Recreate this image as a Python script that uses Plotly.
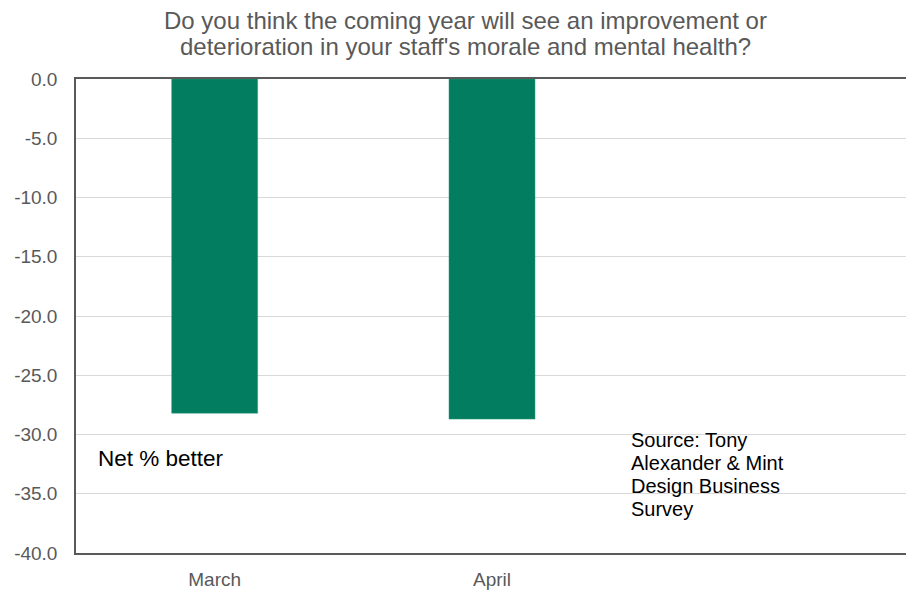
import plotly.graph_objects as go

categories = ["March", "April"]
net_better = [-28.2, -28.7]
y_ticks = [0, -5, -10, -15, -20, -25, -30, -35, -40]
y_tick_labels = [f"{v:.1f}" for v in y_ticks]
title_lines = ["Do you think the coming year will see an improvement or",
               "deterioration in your staff's morale and mental health?"]
label_text = "Net % better"
source_lines = ["Source: Tony", "Alexander & Mint", "Design Business", "Survey"]

FONT = "Liberation Sans, Arial, sans-serif"

# plot area in window pixels: x 76..908, y 79..553 (page body has 8px margin)
PL, PR, PT, PB = 76, 908, 79, 553
PW, PH = PR - PL, PB - PT

def px_to_paper(x, y):
    return (x - PL) / PW, (PB - y) / PH

fig = go.Figure()
fig.add_trace(go.Bar(
    x=categories, y=net_better,
    width=0.31,
    marker=dict(color="#037D5F", line=dict(color="#2E9A7E", width=0.5)),
    showlegend=False,
))

annotations = []
for i, line in enumerate(title_lines):
    ax, ay = px_to_paper(465, 20 + 26 * i)
    annotations.append(dict(
        text=line, x=ax, y=ay, xref="paper", yref="paper",
        xanchor="center", yanchor="middle", showarrow=False,
        font=dict(family=FONT, size=24, color="#595959")))

ax, ay = px_to_paper(96, 458)
annotations.append(dict(
    text=label_text, x=ax, y=ay, xref="paper", yref="paper",
    xanchor="left", yanchor="middle", showarrow=False,
    font=dict(family=FONT, size=22.5, color="#000000")))
for i, line in enumerate(source_lines):
    ax, ay = px_to_paper(629, 440 + 23 * i)
    annotations.append(dict(
        text=line, x=ax, y=ay, xref="paper", yref="paper",
        xanchor="left", yanchor="middle", showarrow=False,
        font=dict(family=FONT, size=20, color="#000000")))

OFF = 8
fig.update_layout(
    width=914, height=591,
    margin=dict(l=PL - OFF, r=914 - (PR - OFF), t=PT - OFF, b=591 - (PB - OFF),
                autoexpand=False),
    paper_bgcolor="white", plot_bgcolor="white",
    font=dict(family=FONT),
    xaxis=dict(range=[-0.5, 2.5], type="category", showline=True, mirror=True,
               linecolor="#595959", linewidth=1.5, ticks="", showgrid=False,
               automargin=False,
               tickfont=dict(family=FONT, size=19, color="#595959"),
               ticklabelstandoff=8),
    yaxis=dict(range=[-40, 0], tickvals=y_ticks, ticktext=y_tick_labels,
               showline=True, mirror=True, linecolor="#595959", linewidth=1.5,
               showgrid=True, gridcolor="#D9D9D9", gridwidth=1,
               zeroline=False, ticks="", automargin=False,
               tickfont=dict(family=FONT, size=19, color="#595959"),
               ticklabelstandoff=13),
    annotations=annotations,
)

fig.write_html("out.html")
